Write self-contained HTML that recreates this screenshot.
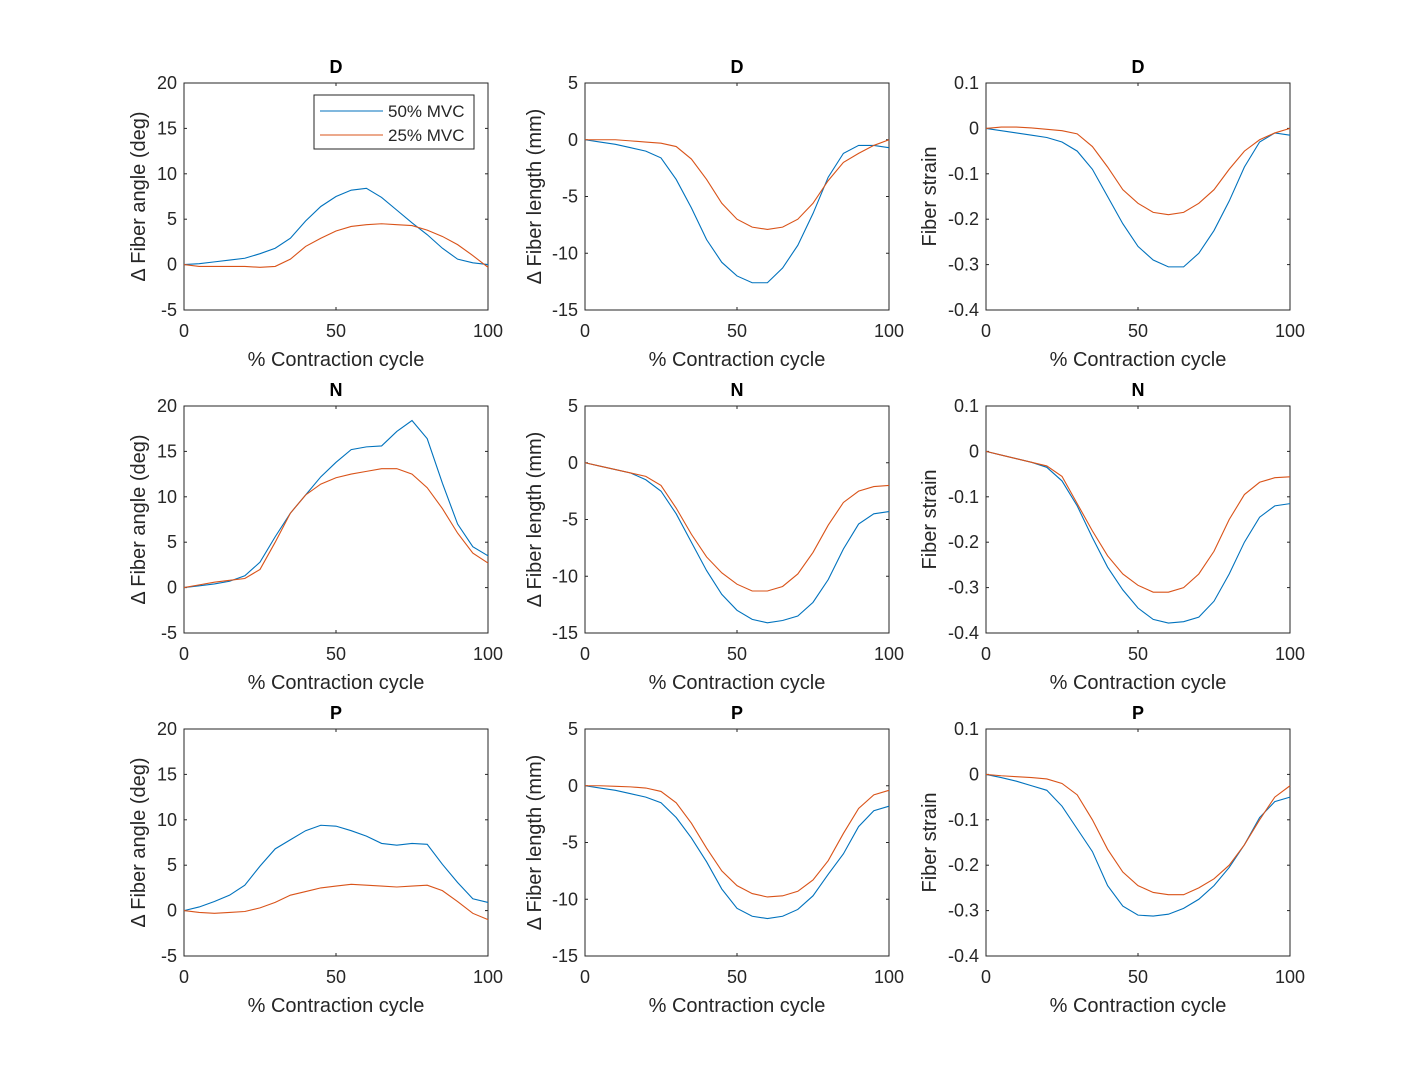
<!DOCTYPE html>
<html><head><meta charset="utf-8"><style>
body{margin:0;background:#fff}
svg text{font-family:"Liberation Sans",Arial,sans-serif;fill:#262626}
</style></head><body>
<svg id="fig" width="1426" height="1079" xmlns="http://www.w3.org/2000/svg"></svg>
<script>
const xValues=[0,5,10,15,20,25,30,35,40,45,50,55,60,65,70,75,80,85,90,95,100];
const titles=["D","N","P"];
const angle50=[[0,0.1,0.3,0.5,0.7,1.2,1.8,2.9,4.8,6.4,7.5,8.2,8.4,7.4,6,4.6,3.3,1.8,0.6,0.2,0],
[0,0.2,0.4,0.7,1.3,2.8,5.6,8.2,10.2,12.2,13.8,15.2,15.5,15.6,17.2,18.4,16.4,11.5,7,4.5,3.5],
[0,0.4,1,1.7,2.8,4.9,6.8,7.8,8.8,9.4,9.3,8.8,8.2,7.4,7.2,7.4,7.3,5.1,3.1,1.3,0.9]];
const angle25=[[0,-0.2,-0.2,-0.2,-0.2,-0.3,-0.2,0.6,2,2.9,3.7,4.2,4.4,4.5,4.4,4.3,3.8,3.1,2.2,1,-0.3],
[0,0.3,0.6,0.8,1,2,5,8.2,10.2,11.4,12.1,12.5,12.8,13.1,13.1,12.5,11,8.7,6,3.8,2.7],
[0,-0.2,-0.3,-0.2,-0.1,0.3,0.9,1.7,2.1,2.5,2.7,2.9,2.8,2.7,2.6,2.7,2.8,2.2,1,-0.3,-1]];
const length50=[[0,-0.2,-0.4,-0.7,-1,-1.6,-3.5,-6,-8.8,-10.8,-12,-12.6,-12.6,-11.3,-9.3,-6.5,-3.3,-1.2,-0.5,-0.5,-0.7],
[0,-0.3,-0.6,-0.9,-1.5,-2.5,-4.5,-7,-9.5,-11.6,-13,-13.8,-14.1,-13.9,-13.5,-12.3,-10.3,-7.6,-5.4,-4.5,-4.3],
[0,-0.2,-0.4,-0.7,-1,-1.5,-2.8,-4.6,-6.7,-9.1,-10.8,-11.5,-11.7,-11.5,-10.9,-9.7,-7.8,-6,-3.6,-2.2,-1.8]];
const length25=[[0,0,0,-0.1,-0.2,-0.3,-0.6,-1.7,-3.5,-5.6,-7,-7.7,-7.9,-7.7,-7,-5.6,-3.6,-2,-1.2,-0.5,0],
[0,-0.3,-0.6,-0.9,-1.2,-2,-4,-6.3,-8.3,-9.7,-10.7,-11.3,-11.3,-10.9,-9.8,-7.9,-5.5,-3.5,-2.5,-2.1,-2],
[0,0,-0.05,-0.1,-0.2,-0.5,-1.5,-3.3,-5.5,-7.5,-8.8,-9.5,-9.8,-9.7,-9.3,-8.3,-6.6,-4.2,-2,-0.8,-0.4]];
const strain50=[[0,-0.005,-0.01,-0.015,-0.02,-0.03,-0.05,-0.09,-0.15,-0.21,-0.26,-0.29,-0.305,-0.305,-0.275,-0.225,-0.16,-0.085,-0.03,-0.01,-0.015],
[0,-0.008,-0.016,-0.024,-0.035,-0.065,-0.12,-0.19,-0.255,-0.305,-0.345,-0.37,-0.378,-0.375,-0.365,-0.33,-0.27,-0.2,-0.145,-0.12,-0.115],
[0,-0.007,-0.015,-0.025,-0.035,-0.07,-0.12,-0.17,-0.245,-0.29,-0.31,-0.312,-0.308,-0.295,-0.275,-0.245,-0.205,-0.155,-0.095,-0.06,-0.05]];
const strain25=[[0,0.003,0.003,0.001,-0.002,-0.005,-0.012,-0.04,-0.085,-0.135,-0.165,-0.185,-0.19,-0.185,-0.165,-0.135,-0.09,-0.05,-0.025,-0.01,0],
[0,-0.008,-0.016,-0.024,-0.032,-0.055,-0.115,-0.175,-0.23,-0.27,-0.295,-0.31,-0.31,-0.3,-0.27,-0.22,-0.15,-0.095,-0.068,-0.058,-0.056],
[0,-0.003,-0.005,-0.007,-0.01,-0.02,-0.045,-0.1,-0.165,-0.215,-0.245,-0.26,-0.265,-0.265,-0.25,-0.23,-0.2,-0.155,-0.1,-0.05,-0.025]];
const xTicks=[0,50,100];
const angleTicks=[-5,0,5,10,15,20];
const lengthTicks=[-15,-10,-5,0,5];
const strainTicks=[-0.4,-0.3,-0.2,-0.1,0,0.1];
const strainTickLabels=["-0.4","-0.3","-0.2","-0.1","0","0.1"];

const NS="http://www.w3.org/2000/svg";
const svg=document.getElementById('fig');
function mk(tag,attrs,parent){const e=document.createElementNS(NS,tag);for(const k in attrs)e.setAttribute(k,attrs[k]);(parent||svg).appendChild(e);return e;}
const colX=[184,585,986],W=304,rowY=[83,406,729],H=227;
const cols=[
 {s50:angle50,s25:angle25,ticks:angleTicks,labels:angleTicks.map(String),min:-5,max:20,ylab:"\u0394 Fiber angle (deg)",name:"angle",off:39},
 {s50:length50,s25:length25,ticks:lengthTicks,labels:lengthTicks.map(String),min:-15,max:5,ylab:"\u0394 Fiber length (mm)",name:"length",off:44},
 {s50:strain50,s25:strain25,ticks:strainTicks,labels:strainTickLabels,min:-0.4,max:0.1,ylab:"Fiber strain",name:"strain",off:50}];
for(let r=0;r<3;r++)for(let c=0;c<3;c++){
 const C=cols[c],x0=colX[c],y0=rowY[r];
 const g=mk('g',{});
 
 
 const sx=v=>x0+v/100*W, sy=v=>y0+H-(v-C.min)/(C.max-C.min)*H;
 const bg=mk('rect',{x:x0,y:y0,width:W,height:H,fill:'#fff',stroke:'#262626','stroke-width':1},g);
 
 
 xTicks.forEach(t=>{const X=sx(t);
  mk('line',{x1:X,x2:X,y1:y0+H,y2:y0+H-3,stroke:'#262626'},g);
  mk('line',{x1:X,x2:X,y1:y0,y2:y0+3,stroke:'#262626'},g);
  const tx=mk('text',{x:X,y:y0+H+27,'font-size':18,'text-anchor':'middle'},g);tx.textContent=t;
  
  });
 C.ticks.forEach((t,i)=>{const Y=sy(t);
  mk('line',{x1:x0,x2:x0+3,y1:Y,y2:Y,stroke:'#262626'},g);
  mk('line',{x1:x0+W,x2:x0+W-3,y1:Y,y2:Y,stroke:'#262626'},g);
  const tx=mk('text',{x:x0-7,y:Y+6,'font-size':18,'text-anchor':'end'},g);tx.textContent=C.labels[i];
  
  });
 [[C.s50[r],'#0072BD','series-50-mvc'],[C.s25[r],'#D95319','series-25-mvc']].forEach(([d,col,nm])=>{
  const p=mk('polyline',{points:d.map((v,i)=>sx(xValues[i])+','+sy(v)).join(' '),fill:'none',stroke:col,'stroke-width':1.1},g);
  
  });
 const ti=mk('text',{x:x0+W/2,y:y0-10,'font-size':18,'font-weight':'bold','text-anchor':'middle',style:'fill:#000'},g);ti.textContent=titles[r];
 
 
 const xl=mk('text',{x:x0+W/2,y:y0+H+56,'font-size':20,'text-anchor':'middle'},g);xl.textContent='% Contraction cycle';
 
 
 const yc=y0+H/2, xc=x0-C.off;
 const yl=mk('text',{x:xc,y:yc,'font-size':20,'text-anchor':'middle',transform:'rotate(-90 '+xc+' '+yc+')'},g);yl.textContent=C.ylab;
 
 
}
const lg=mk('g',{});


mk('rect',{x:314,y:95,width:160,height:54,fill:'#fff',stroke:'#262626'},lg);
[['50% MVC','#0072BD',111],['25% MVC','#D95319',135]].forEach(([t,c,y])=>{
 mk('line',{x1:320,x2:383,y1:y,y2:y,stroke:c,'stroke-width':1.1},lg);
 const tx=mk('text',{x:388,y:y+6,'font-size':17},lg);tx.textContent=t;
 
 });
</script>
</body></html>
